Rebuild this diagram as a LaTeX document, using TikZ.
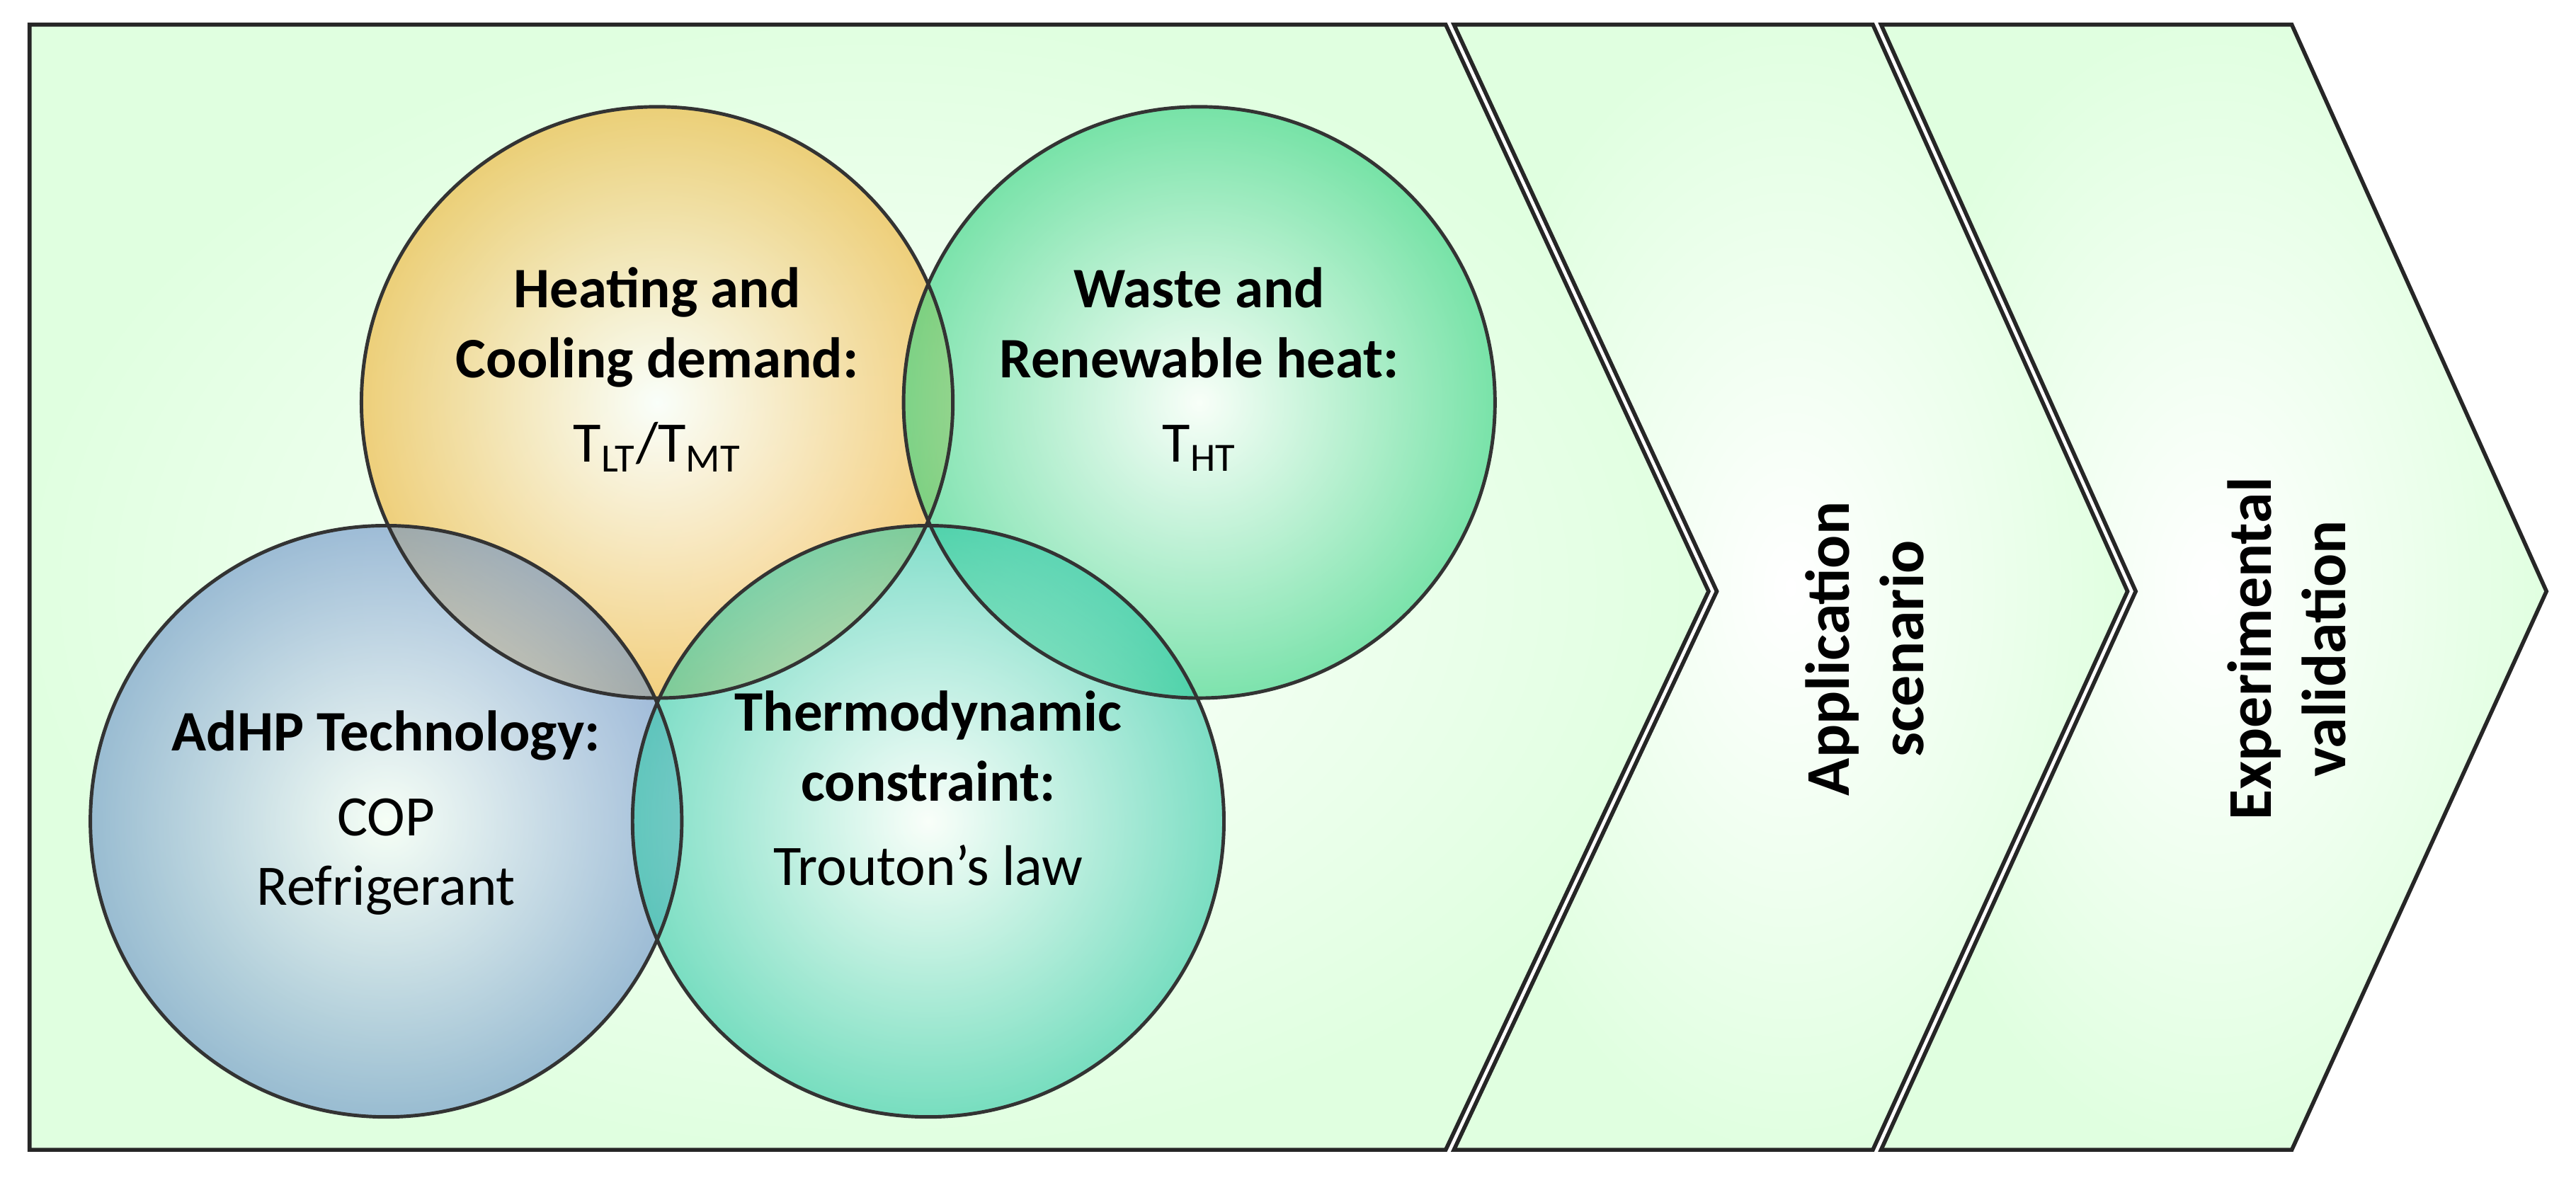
\documentclass[tikz,border=0pt]{standalone}
\usepackage{fontspec}
\setmainfont{Carlito}
\usetikzlibrary{shapes.geometric}
\definecolor{cyel}{HTML}{F0B030}
\definecolor{cgrn}{HTML}{30D080}
\definecolor{cblu}{HTML}{6A90C8}
\definecolor{ctea}{HTML}{30C8A8}
\begin{document}
\begin{tikzpicture}[x=0.0232cm,y=-0.0232cm,
  chev/.style={draw=black!85,line width=1.6pt,line join=miter},
  circ/.style={fill opacity=0.6},
  lbl/.style={align=center,font=\fontsize{23}{28}\selectfont}]
\useasboundingbox (0,0) rectangle (1568,720);
% chevrons
\path[chev,inner color=white,outer color=green!12] (18,15) -- (880,15) -- (1040,360) -- (880,700) -- (18,700) -- cycle;
\path[chev,inner color=white,outer color=green!12] (885,15) -- (1140,15) -- (1295,360) -- (1140,700) -- (885,700) -- (1045,360) -- cycle;
\path[chev,inner color=white,outer color=green!12] (1145,15) -- (1395,15) -- (1550,360) -- (1395,700) -- (1145,700) -- (1300,360) -- cycle;
% circles
\path[circ,inner color=white,outer color=cyel] (400,245) circle[radius=180];
\path[circ,inner color=white,outer color=cgrn] (730,245) circle[radius=180];
\path[circ,inner color=white,outer color=cblu] (235,500) circle[radius=180];
\path[circ,inner color=white,outer color=ctea] (565,500) circle[radius=180];
\draw[black!80,line width=1.4pt] (400,245) circle[radius=180] (730,245) circle[radius=180] (235,500) circle[radius=180] (565,500) circle[radius=180];
% texts
\node[lbl] (hc) at (400,225) {\textbf{Heating and}\\\textbf{Cooling demand:}\\[6pt]T\textsubscript{LT}/T\textsubscript{MT}};
\node[lbl] (wr) at (730,225) {\textbf{Waste and}\\\textbf{Renewable heat:}\\[6pt]T\textsubscript{HT}};
\node[lbl] (ad) at (235,495) {\textbf{AdHP Technology:}\\[6pt]COP\\Refrigerant};
\node[lbl] (th) at (565,480) {\textbf{Thermodynamic}\\\textbf{constraint:}\\[6pt]Trouton’s law};
\node[lbl,rotate=90,font=\fontsize{25}{30}\selectfont\bfseries] (as) at (1135,395) {Application\\scenario};
\node[lbl,rotate=90,font=\fontsize{25}{30}\selectfont\bfseries] (ev) at (1392,395) {Experimental\\validation};
\end{tikzpicture}
\end{document}
